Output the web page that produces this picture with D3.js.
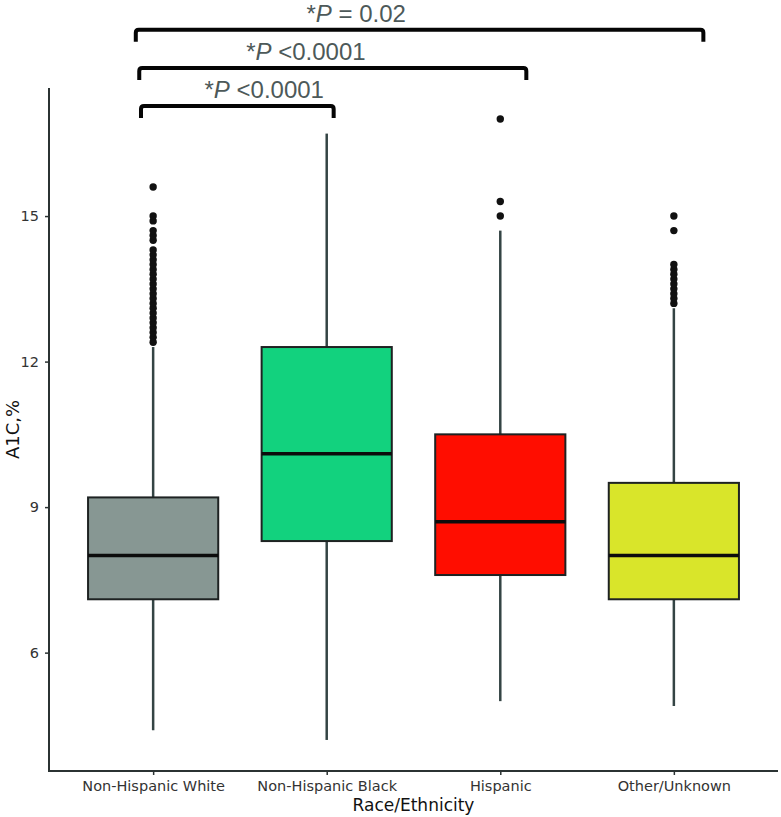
<!DOCTYPE html>
<html>
<head>
<meta charset="utf-8">
<script src="https://cdn.jsdelivr.net/npm/d3@7"></script>
<style>
  body { margin: 0; background: #fff; }
  svg { display: block; }
</style>
</head>
<body>
<svg width="781" height="817"></svg>
<script>
// data (A1C, %)
const groups = ["Non-Hispanic White", "Non-Hispanic Black", "Hispanic", "Other/Unknown"];
const lowWhisker = [4.4, 4.2, 5.0, 4.9];
const q1 = [7.1, 8.3, 7.6, 7.1];
const median = [8.0, 10.1, 8.7, 8.0];
const q3 = [9.2, 12.3, 10.5, 9.5];
const highWhisker = [12.3, 16.7, 14.7, 13.1];
const outliers = [
  [12.4, 12.5, 12.6, 12.7, 12.8, 12.9, 13.0, 13.1, 13.2, 13.3, 13.4, 13.5, 13.6, 13.7, 13.8, 13.9, 14.0, 14.1, 14.2, 14.3, 14.5, 14.6, 14.7, 14.9, 15.0, 15.6],
  [],
  [15.0, 15.3, 17.0],
  [13.2, 13.3, 13.4, 13.5, 13.6, 13.7, 13.8, 13.9, 14.0, 14.7, 15.0]
];
const fills = ["#879793", "#12d27e", "#ff0d00", "#d9e52a"];
const yTicks = [6, 9, 12, 15];

// significance brackets (category positions, A1C level)
const bracketFrom = [0.93, 0.92, 0.90];
const bracketTo = [2.04, 3.15, 4.17];
const bracketY = [17.27, 18.05, 18.84];
const bracketText = [" <0.0001", " <0.0001", " = 0.02"];
const labelX = [1.64, 1.88, 2.17];

const svg = d3.select("svg");
const margin = {left: 49, right: 3, top: 88, bottom: 46};
const width = +svg.attr("width"), height = +svg.attr("height");

// continuous category position like ggplot's discrete axis (0.6 expansion)
const xPos = d3.scaleLinear()
  .domain([0.4, groups.length + 0.6])
  .range([margin.left, width - margin.right]);
const x = i => xPos(i + 1);
const boxW = xPos(1.375) - xPos(0.625);

const y = d3.scaleLinear()
  .domain([3.56, 17.64])
  .range([height - margin.bottom, margin.top]);

const idx = d3.range(groups.length);

// whiskers
const g = svg.append("g");
g.selectAll("line.wl")
  .data(idx)
  .join("line")
    .attr("x1", i => x(i)).attr("x2", i => x(i))
    .attr("y1", i => y(q1[i])).attr("y2", i => y(lowWhisker[i]))
    .attr("stroke", "#344444").attr("stroke-width", 2.5);
g.selectAll("line.wh")
  .data(idx)
  .join("line")
    .attr("x1", i => x(i)).attr("x2", i => x(i))
    .attr("y1", i => y(q3[i])).attr("y2", i => y(highWhisker[i]))
    .attr("stroke", "#344444").attr("stroke-width", 2.5);

// boxes
g.selectAll("rect.box")
  .data(idx)
  .join("rect")
    .attr("x", i => x(i) - boxW / 2)
    .attr("width", boxW)
    .attr("y", i => y(q3[i]))
    .attr("height", i => y(q1[i]) - y(q3[i]))
    .attr("fill", i => fills[i])
    .attr("stroke", "#1e2222")
    .attr("stroke-width", 2);

// medians
g.selectAll("line.med")
  .data(idx)
  .join("line")
    .attr("x1", i => x(i) - boxW / 2).attr("x2", i => x(i) + boxW / 2)
    .attr("y1", i => y(median[i])).attr("y2", i => y(median[i]))
    .attr("stroke", "#0c0c0c").attr("stroke-width", 3.5);

// outliers
const pts = idx.flatMap(i => outliers[i].map(v => ({i: i, v: v})));
g.selectAll("circle")
  .data(pts)
  .join("circle")
    .attr("cx", d => x(d.i))
    .attr("cy", d => y(d.v))
    .attr("r", 3.7)
    .attr("fill", "#111");

// axes
const axisColor = "#2b3333";
const yAxis = svg.append("g")
  .attr("transform", `translate(${margin.left},0)`)
  .call(d3.axisLeft(y).tickValues(yTicks).tickSize(4).tickPadding(6).tickFormat(d3.format("d")));
yAxis.select(".domain").remove();
yAxis.append("line")
  .attr("y1", margin.top).attr("y2", height - margin.bottom + 1)
  .attr("stroke", axisColor).attr("stroke-width", 2);

const xAxis = svg.append("g")
  .attr("transform", `translate(0,${height - margin.bottom})`)
  .call(d3.axisBottom(xPos).tickValues(idx.map(i => i + 1)).tickSize(4).tickPadding(6)
    .tickFormat(d => groups[d - 1]));
xAxis.select(".domain").remove();
xAxis.append("line")
  .attr("x1", margin.left - 1).attr("x2", width - margin.right)
  .attr("stroke", axisColor).attr("stroke-width", 2);

svg.selectAll(".tick line").attr("stroke", axisColor).attr("stroke-width", 1.5);
svg.selectAll(".tick text")
  .attr("fill", "#333")
  .style("font-family", "DejaVu Sans, sans-serif")
  .style("font-size", "14.5px");

// axis titles
svg.append("text")
  .attr("x", (margin.left + width - margin.right) / 2)
  .attr("y", 811)
  .attr("text-anchor", "middle")
  .style("font-family", "DejaVu Sans, sans-serif")
  .style("font-size", "17px")
  .attr("fill", "#111")
  .text("Race/Ethnicity");

svg.append("text")
  .attr("transform", `translate(19,${(margin.top + height - margin.bottom) / 2}) rotate(-90)`)
  .attr("text-anchor", "middle")
  .style("font-family", "DejaVu Sans, sans-serif")
  .style("font-size", "18px")
  .attr("fill", "#111")
  .text("A1C,%");

// significance brackets
const drop = 12;
const br = svg.append("g");
d3.range(bracketFrom.length).forEach(k => {
  const x1 = xPos(bracketFrom[k]), x2 = xPos(bracketTo[k]), yy = y(bracketY[k]);
  br.append("path")
    .attr("d", `M${x1},${yy + drop} V${yy + 3} Q${x1},${yy} ${x1 + 3},${yy} H${x2 - 3} Q${x2},${yy} ${x2},${yy + 3} V${yy + drop}`)
    .attr("fill", "none")
    .attr("stroke", "#050505")
    .attr("stroke-width", 4);
});

const t = br.selectAll("text")
  .data(bracketText)
  .join("text")
    .attr("x", (d, k) => xPos(labelX[k]))
    .attr("y", (d, k) => y(bracketY[k]) - 8)
    .attr("text-anchor", "middle")
    .style("font-family", "Liberation Sans, Arial, sans-serif")
    .style("font-size", "24px")
    .attr("fill", "#4d5959");
t.append("tspan").text("*");
t.append("tspan").style("font-style", "italic").text("P");
t.append("tspan").text(d => d);
</script>
</body>
</html>
